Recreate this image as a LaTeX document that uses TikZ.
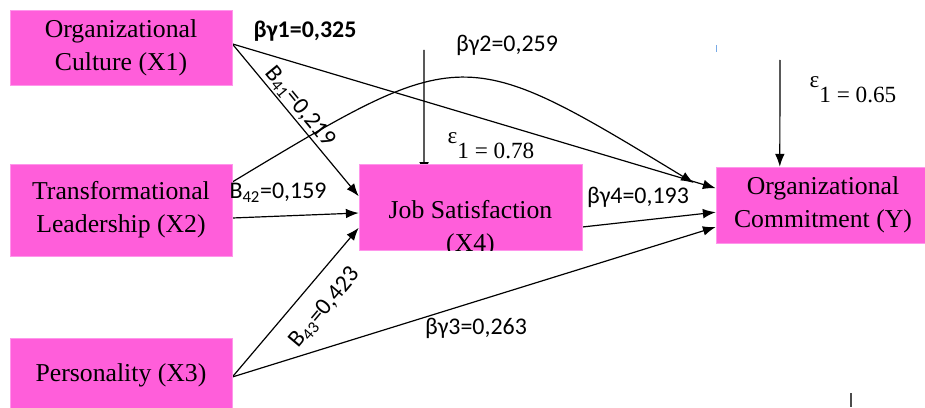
\documentclass[tikz,border=0pt]{standalone}
\usepackage{fontspec}
\setmainfont{Liberation Serif}
\newfontfamily\lblfont{Carlito}
\usetikzlibrary{arrows.meta,calc,backgrounds}
\definecolor{boxpink}{RGB}{255,94,218}
\definecolor{edgepink}{RGB}{255,150,235}
\definecolor{tickblue}{RGB}{120,170,230}
\newcommand{\errsym}{\raisebox{0.66em}{ε}}
\tikzset{
  varbox/.style={fill=boxpink, draw=edgepink, thin, align=center, inner sep=0pt,
    font=\fontsize{18.3}{23.5}\selectfont, minimum width=5.55cm},
  arr/.style={-{Latex[length=3.2mm,width=2.4mm]}, line width=0.85pt},
  coef/.style={font=\lblfont\fontsize{17}{20}\selectfont, inner sep=1pt},
  errlbl/.style={font=\fontsize{16.5}{20}\selectfont, inner sep=0pt}
}

\begin{document}
\begin{tikzpicture}[x=0.025cm, y=-0.025cm]
  \useasboundingbox (0,0) rectangle (925,407);

  % variables
  \node[varbox, minimum height=1.875cm] (x1) at (121,47.5) {Organizational\\Culture (X1)};
  \node[varbox, minimum height=2.3cm] (x2) at (121,210) {Transformational\\Leadership (X2)};
  \node[varbox, minimum height=1.85cm] (x3) at (121,375) {Personality (X3)};
  \node[varbox, minimum width=5.575cm, minimum height=2.15cm] (x4) at (470.5,207) {};
  \begin{scope}
    \clip (x4.south west) rectangle (x4.north east);
    \node[font=\fontsize{18.3}{23.5}\selectfont, align=center] (x4txt) at (470.5,229) {Job Satisfaction\\(X4)};
  \end{scope}
  \node[varbox, minimum width=5.35cm, minimum height=1.9cm] (y) at (823,205) {Organizational\\Commitment (Y)};

  \coordinate (e1top) at (424,50);
  \coordinate (e2top) at (780,60);
  \coordinate (bend) at (463,43);

  % paths
  \begin{pgfonlayer}{background}
    \draw[arr] ([yshift=0.09cm]x1.east) -- ([yshift=0.42cm]y.west);
    \draw[arr] ([yshift=0.09cm]x1.east) -- ([yshift=0.27cm]x4.west);
    \draw[arr] ([yshift=-0.2cm]x2.east) -- ([yshift=-0.15cm]x4.west);
    \draw[arr] ([yshift=0.7cm]x2.east) .. controls (bend) .. ([xshift=-0.55cm,yshift=0.55cm]y.west);
    \draw[arr] ([yshift=-0.05cm]x3.east) -- ([yshift=-0.52cm]x4.west);
    \draw[arr] ([yshift=-0.05cm]x3.east) -- ([yshift=-0.55cm]y.west);
    \draw[arr] ([yshift=-0.5cm]x4.east) -- ([yshift=-0.18cm]y.west);
    \draw[arr] (e1top) -- ([xshift=-1.16cm,yshift=-0.28cm]x4.north);
    \draw[arr] (e2top) -- ([xshift=-1.08cm]y.north);
  \end{pgfonlayer}

  % coefficients
  \node[coef, font=\lblfont\bfseries\fontsize{17}{20}\selectfont] (b1) at (305,31) {βγ1=0,325};
  \node[coef] (b2) at (507,45) {βγ2=0,259};
  \node[coef, rotate=-50.6] (b41) at (300,107) {B\textsubscript{41}=0,219};
  \node[coef] (b42) at (278,193) {B\textsubscript{42}=0,159};
  \node[coef, rotate=50] (b43) at (325,308) {B\textsubscript{43}=0,423};
  \node[coef] (b4) at (638,197) {βγ4=0,193};
  \node[coef] (b3) at (476,328) {βγ3=0,263};
  \node[errlbl] (e1) at (491,146) {\errsym1 = 0.78};
  \node[errlbl] (e2) at (853,90) {\errsym1 = 0.65};

  % stray marks
  \draw[tickblue, line width=0.6pt] (716,45) -- (716,52);
  \draw[black!70, line width=1pt] (851,393) -- (851,407);
\end{tikzpicture}
\end{document}
